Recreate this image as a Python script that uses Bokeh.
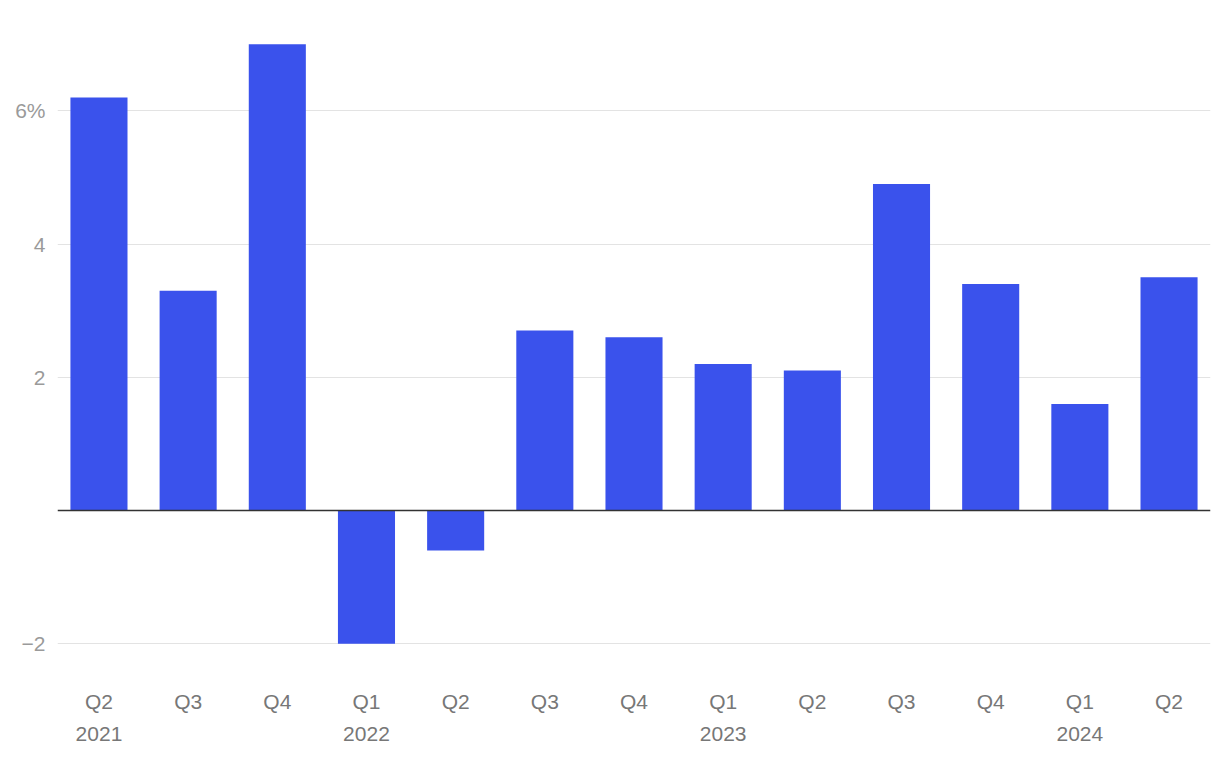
from bokeh.plotting import figure
from bokeh.models import ColumnDataSource, Span, FixedTicker, Range1d
from bokeh.embed import file_html
from bokeh.resources import INLINE

quarters = ["Q2", "Q3", "Q4", "Q1", "Q2", "Q3", "Q4", "Q1", "Q2", "Q3", "Q4", "Q1", "Q2"]
years = ["2021", "", "", "2022", "", "", "", "2023", "", "", "", "2024", ""]
values = [6.2, 3.3, 7.0, -2.0, -0.6, 2.7, 2.6, 2.2, 2.1, 4.9, 3.4, 1.6, 3.5]
y_ticks = [-2, 2, 4, 6]
y_labels = {-2: "\u22122", 2: "2", 4: "4", 6: "6%"}

xs = list(range(len(values)))
src = ColumnDataSource(dict(x=xs, top=values, bottom=[0] * len(values)))

p = figure(width=1220, height=760, output_backend="svg", toolbar_location=None,
           x_range=Range1d(-0.465, 12.465), y_range=Range1d(-2.402, 7.505),
           min_border_left=57, min_border_right=10, min_border_top=10, min_border_bottom=90)
p.outline_line_color = None
p.background_fill_color = "white"
p.border_fill_color = "white"

p.vbar(x="x", top="top", bottom="bottom", width=0.64, source=src,
       fill_color="#3A52EC", line_color=None)

p.add_layout(Span(location=0, dimension="width", line_color="#333333", line_width=1.5))

# y axis
yax = p.yaxis[0]
yax.ticker = FixedTicker(ticks=y_ticks)
yax.major_label_overrides = y_labels
yax.axis_line_color = None
yax.major_tick_line_color = None
yax.minor_tick_line_color = None
yax.major_tick_out = 0
yax.major_tick_in = 0
yax.major_label_standoff = 12
yax.major_label_text_font = "Liberation Sans"
yax.major_label_text_font_size = "21px"
yax.major_label_text_color = "#9a9a9a"

p.ygrid.ticker = FixedTicker(ticks=y_ticks)
p.ygrid.grid_line_color = "#e3e3e3"
p.ygrid.grid_line_width = 1
p.xgrid.grid_line_color = None

# x axis
xax = p.xaxis[0]
xax.ticker = FixedTicker(ticks=xs)
xax.major_label_overrides = {i: (q + ("\n" + y if y else "")) for i, (q, y) in enumerate(zip(quarters, years))}
xax.axis_line_color = None
xax.major_tick_line_color = None
xax.minor_tick_line_color = None
xax.major_tick_out = 0
xax.major_tick_in = 0
xax.major_label_standoff = 19
xax.major_label_text_font = "Liberation Sans"
xax.major_label_text_font_size = "21px"
xax.major_label_text_color = "#777777"
xax.major_label_text_line_height = 1.4

open("out.html", "w").write(file_html(p, INLINE))
